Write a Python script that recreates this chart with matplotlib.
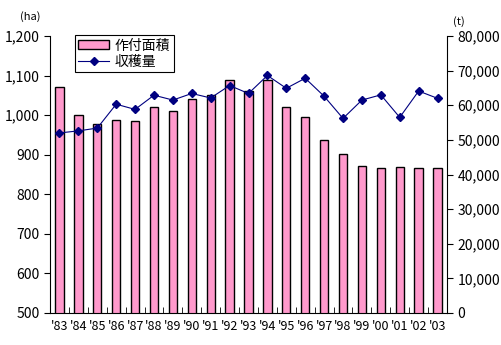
import matplotlib.pyplot as plt
import numpy as np
from matplotlib.ticker import FuncFormatter, MultipleLocator

plt.rcParams['font.family'] = ['Noto Sans CJK JP', 'DejaVu Sans']

years = ["'83", "'84", "'85", "'86", "'87", "'88", "'89", "'90", "'91", "'92", "'93",
         "'94", "'95", "'96", "'97", "'98", "'99", "'00", "'01", "'02", "'03"]
area_ha = [1070, 1000, 978, 987, 985, 1020, 1010, 1040, 1050, 1090, 1060,
           1090, 1020, 995, 937, 901, 872, 866, 868, 866, 866]
harvest_t = [52000, 52600, 53400, 60300, 58800, 62900, 61500, 63400, 62100, 65700, 63400,
             68600, 64900, 67800, 62600, 56200, 61500, 63000, 56500, 64100, 62000]

fig = plt.figure(figsize=(5.02, 3.45), dpi=100)
ax = fig.add_axes([50 / 502, 1 - 313 / 345, 397 / 502, 277 / 345])
ax2 = ax.twinx()

x = np.arange(len(years))
bars = ax.bar(x, area_ha, width=0.44, color='#FF99CC', edgecolor='black', linewidth=1.0,
              label='作付面積', zorder=2)
line, = ax2.plot(x, harvest_t, color='#000080', marker='D', markersize=4.5, linewidth=0.8,
                 label='収穫量', zorder=3)

ax.set_xlim(-0.5, len(years) - 0.5)
ax.set_ylim(500, 1200)
ax2.set_ylim(0, 80000)
ax.yaxis.set_major_locator(MultipleLocator(100))
ax2.yaxis.set_major_locator(MultipleLocator(10000))
ax.yaxis.set_major_formatter(FuncFormatter(lambda v, p: f'{int(v):,}'))
ax2.yaxis.set_major_formatter(FuncFormatter(lambda v, p: f'{int(v):,}'))

ax.set_xticks(x)
ax.set_xticklabels(years)
ax.set_xticks(np.arange(-0.5, len(years)), minor=True)
ax.tick_params(axis='x', which='major', length=0, labelsize=9, pad=5)
ax.tick_params(axis='x', which='minor', length=4, direction='in')
ax.tick_params(axis='y', length=4, labelsize=10, direction='out')
ax2.tick_params(axis='y', length=4, labelsize=10, direction='out')

for a in (ax, ax2):
    a.spines['top'].set_visible(False)
ax.spines['right'].set_visible(False)
ax2.spines['left'].set_visible(False)
ax2.spines['bottom'].set_visible(False)

fig.text(20 / 502, 1 - 17 / 345, '(ha)', fontsize=8, va='center')
fig.text(453 / 502, 1 - 22 / 345, '(t)', fontsize=8, va='center')

leg = ax2.legend([bars, line], ['作付面積', '収穫量'], loc='upper left',
                 bbox_to_anchor=(75 / 502, 1 - 35 / 345), bbox_transform=fig.transFigure,
                 borderaxespad=0, fancybox=False, framealpha=1, edgecolor='black', fontsize=10,
                 handlelength=2.2, borderpad=0.25, labelspacing=0.15, handletextpad=0.4)
leg.get_frame().set_linewidth(0.8)

fig.savefig('out.png', dpi=100)
